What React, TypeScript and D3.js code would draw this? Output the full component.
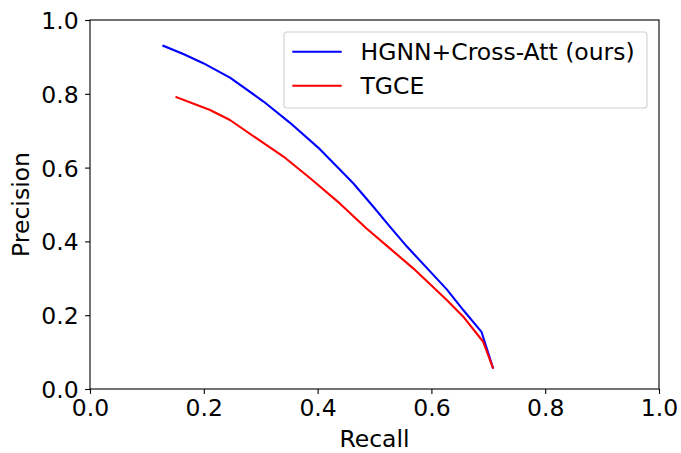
import { useEffect, useRef } from 'react'
import * as d3 from 'd3'

// ── data ─────────────────────────────────────────────────────────────────────
const oursRecall    = [0.129, 0.165, 0.199, 0.246, 0.305, 0.351, 0.404, 0.439, 0.463, 0.498, 0.527, 0.557, 0.598, 0.627, 0.656, 0.688, 0.708]
const oursPrecision = [0.930, 0.907, 0.883, 0.844, 0.779, 0.722, 0.650, 0.595, 0.557, 0.494, 0.440, 0.386, 0.318, 0.270, 0.214, 0.155, 0.058]
const tgceRecall    = [0.152, 0.211, 0.246, 0.293, 0.340, 0.387, 0.439, 0.486, 0.527, 0.568, 0.627, 0.656, 0.691, 0.708]
const tgcePrecision = [0.791, 0.756, 0.729, 0.679, 0.630, 0.571, 0.503, 0.435, 0.381, 0.327, 0.241, 0.196, 0.128, 0.058]
const seriesNames   = ['HGNN+Cross-Att (ours)', 'TGCE']
const xTicks        = [0, 0.2, 0.4, 0.6, 0.8, 1.0]
const yTicks        = [0, 0.2, 0.4, 0.6, 0.8, 1.0]

// ── constants ────────────────────────────────────────────────────────────────
const W = 681, H = 453
const M = { top: 20, right: 22, bottom: 64, left: 90 }
const FONT = 'DejaVu Sans, sans-serif'
const FS = 23.5
const COLS = ['#0000ff', '#ff0000']

type Pt = { r: number; p: number }

export default function App() {
  const ref = useRef<SVGSVGElement>(null)

  useEffect(() => {
    if (!ref.current) return
    const svg = d3.select(ref.current)
    svg.selectAll('*').remove()
    const iW = W - M.left - M.right
    const iH = H - M.top - M.bottom
    const g = svg.append('g').attr('transform', `translate(${M.left},${M.top})`)

    const x = d3.scaleLinear().domain([0, 1]).range([0, iW])
    const y = d3.scaleLinear().domain([0, 1]).range([iH, 0])

    const series: Pt[][] = [
      oursRecall.map((r, i) => ({ r, p: oursPrecision[i] })),
      tgceRecall.map((r, i) => ({ r, p: tgcePrecision[i] })),
    ]

    const line = d3.line<Pt>().x(d => x(d.r)).y(d => y(d.p))

    series.forEach((s, i) => {
      g.append('path').datum(s)
        .attr('fill', 'none')
        .attr('stroke', COLS[i])
        .attr('stroke-width', 2.1)
        .attr('stroke-linejoin', 'round')
        .attr('stroke-linecap', 'square')
        .attr('d', d => line(d) ?? '')
    })

    // ── Axes ─────────────────────────────────────────────────────────────────
    g.append('g')
      .attr('transform', `translate(0,${iH})`)
      .call(d3.axisBottom(x).tickValues(xTicks).tickSize(4.9).tickPadding(4.9).tickFormat(v => (+v).toFixed(1)))
      .call(gg => gg.select('.domain').remove())
      .call(gg => gg.selectAll('line').attr('stroke', '#000').attr('stroke-width', 1.1))
      .call(gg => gg.selectAll<SVGTextElement, unknown>('text')
        .attr('fill', '#000').attr('font-size', FS).attr('font-family', FONT).attr('dy', '0.75em'))

    g.append('g')
      .call(d3.axisLeft(y).tickValues(yTicks).tickSize(4.9).tickPadding(6.5).tickFormat(v => (+v).toFixed(1)))
      .call(gg => gg.select('.domain').remove())
      .call(gg => gg.selectAll('line').attr('stroke', '#000').attr('stroke-width', 1.1))
      .call(gg => gg.selectAll<SVGTextElement, unknown>('text')
        .attr('fill', '#000').attr('font-size', FS).attr('font-family', FONT).attr('dy', '0.36em'))

    // frame
    g.append('rect')
      .attr('width', iW).attr('height', iH)
      .attr('fill', 'none').attr('stroke', '#000').attr('stroke-width', 1.1)

    // ── Axis labels ───────────────────────────────────────────────────────────
    g.append('text')
      .attr('x', iW / 2).attr('y', iH + 58)
      .attr('text-anchor', 'middle')
      .attr('font-size', FS).attr('font-family', FONT)
      .text('Recall')

    g.append('text')
      .attr('transform', `translate(${28.5 - M.left},${iH / 2}) rotate(-90)`)
      .attr('text-anchor', 'middle')
      .attr('font-size', FS).attr('font-family', FONT)
      .text('Precision')

    // ── Legend ────────────────────────────────────────────────────────────────
    const lg = svg.append('g').attr('transform', 'translate(284,32)')
    lg.append('rect')
      .attr('width', 363).attr('height', 76).attr('rx', 3)
      .attr('fill', '#fff').attr('fill-opacity', 0.8)
      .attr('stroke', '#d0d0d0').attr('stroke-width', 1.1)
    seriesNames.forEach((name, i) => {
      const cy = 19.7 + i * 34
      lg.append('line')
        .attr('x1', 8.3).attr('x2', 57.7).attr('y1', cy).attr('y2', cy)
        .attr('stroke', COLS[i]).attr('stroke-width', 2.1)
      lg.append('text')
        .attr('x', 76.5).attr('y', cy).attr('dy', '0.36em')
        .attr('font-size', FS).attr('font-family', FONT)
        .text(name)
    })
  }, [])

  return (
    <svg
      ref={ref}
      width={W}
      height={H}
      style={{ position: 'absolute', left: 0, top: 0, background: '#fff' }}
    />
  )
}
